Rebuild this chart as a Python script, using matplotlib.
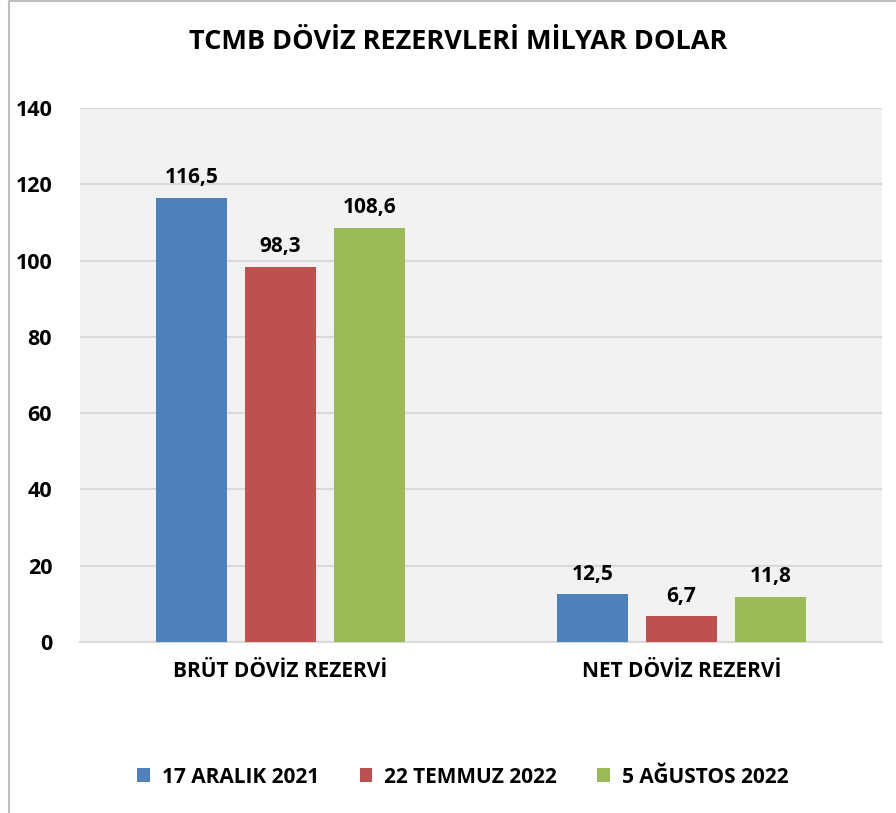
import matplotlib
matplotlib.use("Agg")
import matplotlib.pyplot as plt
from matplotlib.lines import Line2D
from matplotlib.patches import Patch
import numpy as np

plt.rcParams['font.family'] = ['Open Sans', 'DejaVu Sans']
plt.rcParams['font.weight'] = 'bold'

categories = ["BRÜT DÖVİZ REZERVİ", "NET DÖVİZ REZERVİ"]
series_names = ["17 ARALIK 2021", "22 TEMMUZ 2022", "5 AĞUSTOS 2022"]
aralik_2021 = [116.5, 12.5]
temmuz_2022 = [98.3, 6.7]
agustos_2022 = [108.6, 11.8]
colors = ["#4f81bd", "#c0504d", "#9bbb59"]

W, H = 896, 813
fig = plt.figure(figsize=(W / 100, H / 100), dpi=100)
ax = fig.add_axes([80 / W, (H - 642) / H, (882 - 80) / W, (642 - 108) / H])
ax.set_facecolor("#f2f2f2")

x = np.arange(len(categories))
width = 0.175
step = 0.222
for i, (vals, name) in enumerate(zip([aralik_2021, temmuz_2022, agustos_2022], series_names)):
    pos = x + (i - 1) * step
    bars = ax.bar(pos, vals, width, color=colors[i], label=name, zorder=3)
    for b, v in zip(bars, vals):
        ax.annotate(f"{v:.1f}".replace(".", ","), (b.get_x() + b.get_width() / 2, v),
                    xytext=(0, 7), textcoords="offset points",
                    ha="center", va="bottom", fontsize=15, fontweight="bold")

ax.set_xlim(-0.5, 1.5)
ax.set_ylim(0, 140)
ax.set_yticks(range(0, 141, 20))
ax.yaxis.grid(True, color="#d9d9d9", linewidth=1.5, zorder=0)
ax.set_axisbelow(True)
ax.set_xticks(x)
ax.set_xticklabels(categories, fontsize=15, fontweight="bold")
ax.tick_params(axis="both", length=0)
ax.tick_params(axis="y", pad=20, labelsize=15.5)
ax.tick_params(axis="x", pad=14)
for s in ["top", "right", "left"]:
    ax.spines[s].set_visible(False)
ax.spines["bottom"].set_color("#d9d9d9")
ax.spines["bottom"].set_linewidth(1.5)

fig.text(458 / W, 1 - 42 / H, "TCMB DÖVİZ REZERVLERİ MİLYAR DOLAR",
         ha="center", va="center", fontsize=19.5, fontweight="bold")

handles = [Patch(facecolor=c, edgecolor="none") for c in colors]
fig.legend(handles, series_names, loc="center", bbox_to_anchor=(463 / W, 1 - 777 / H),
           ncol=3, frameon=False, fontsize=15, handlelength=0.62, handleheight=0.62,
           handletextpad=0.58, columnspacing=1.92)

fig.add_artist(Line2D([9 / W, 9 / W], [0, 1], color="#bfbfbf", linewidth=1.5))
fig.add_artist(Line2D([9 / W, 1], [1 - 1 / H, 1 - 1 / H], color="#bfbfbf", linewidth=1.5))

fig.savefig("out.png", dpi=100, facecolor="white")
